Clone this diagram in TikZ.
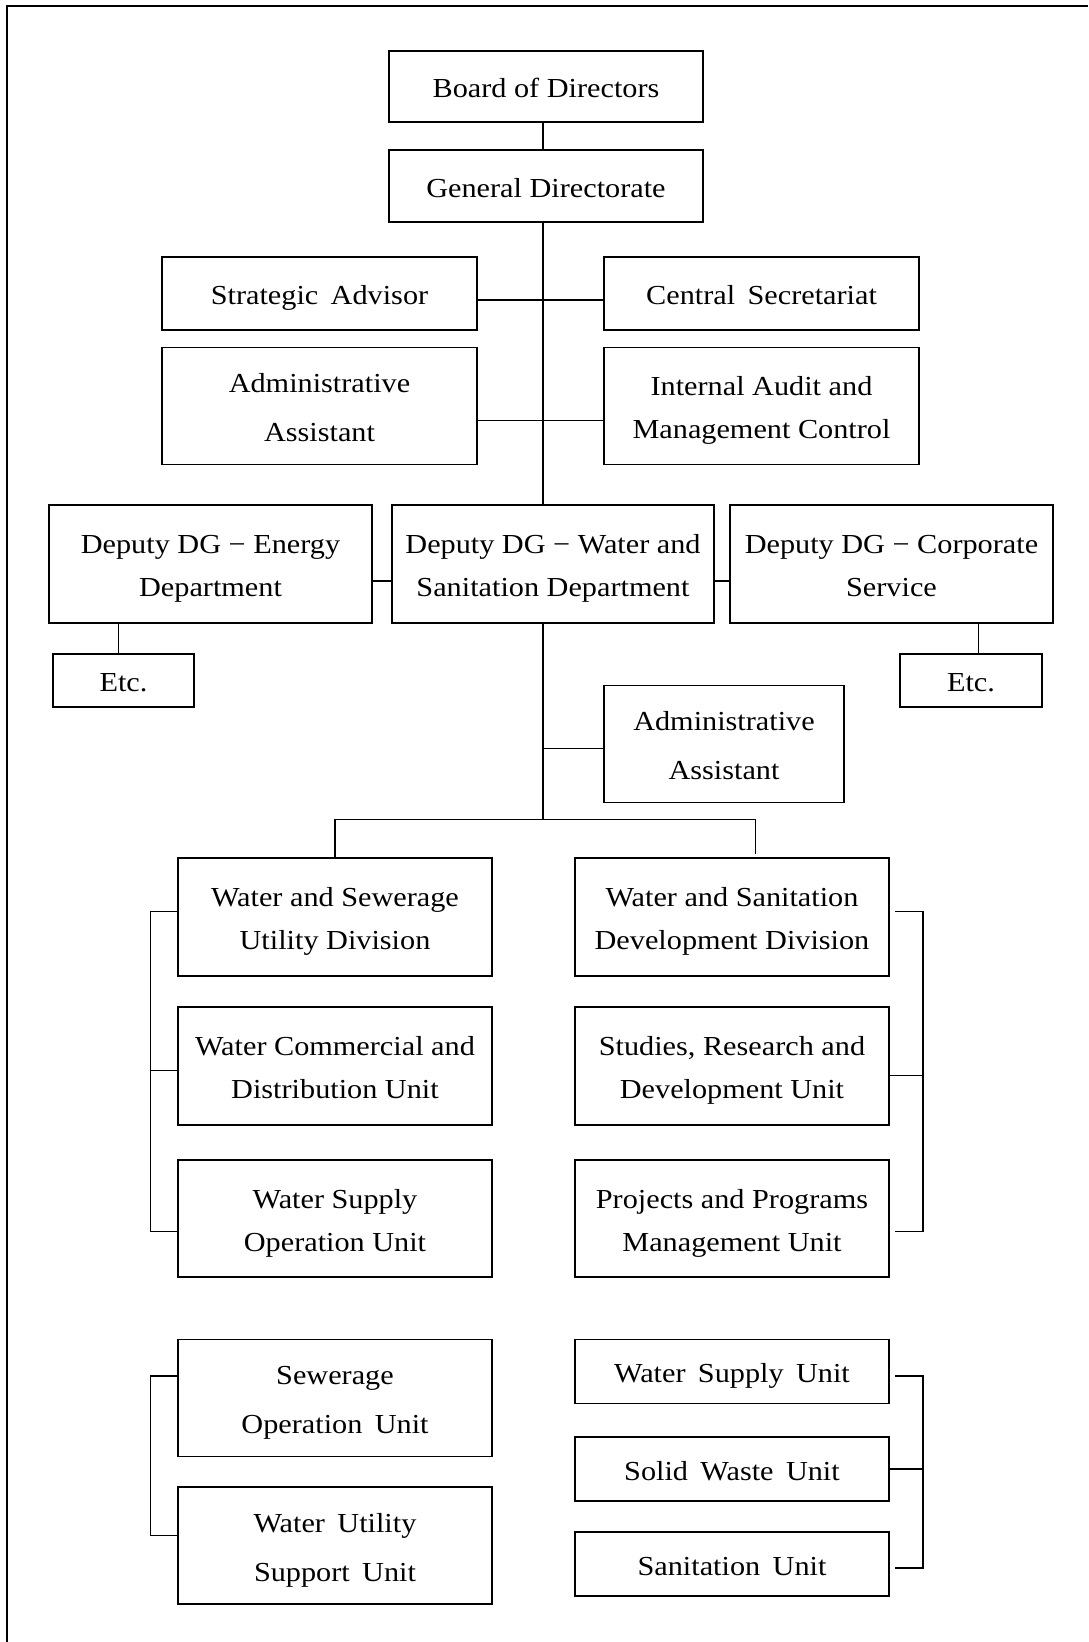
\documentclass[tikz,border=0pt]{standalone}
\usepackage{fontspec}
\setmainfont{Liberation Serif}[FakeStretch=1.10]
\newcommand\ws{\hspace{0.45em}}
% two centred lines, baseline = first line, line distance #1 pt
\newcommand\twol[3]{\vtop{\baselineskip=#1pt\lineskiplimit=0pt\tabskip=0pt
  \halign{\hfil##\hfil\cr#2\cr#3\cr}}}
\tikzset{
  box/.style={draw, line width=1.2pt, inner sep=0pt,
    font=\fontsize{27.5}{33}\selectfont, text height=22pt, text depth=0pt},
  two/.style={text depth=43pt},
  twow/.style={text depth=49pt},
  conn/.style={line width=1.3pt},
  frameline/.style={line width=2pt}
}
\begin{document}
\begin{tikzpicture}[x=1pt,y=-1pt]
\useasboundingbox (0,0) rectangle (1088,1642);
\draw[frameline] (7,1642) -- (7,6) -- (1088,6);
% top
\node[box, minimum width=314pt, minimum height=71pt] (bod) at (546,86.5) {Board of Directors};
\node[box, minimum width=314pt, minimum height=72pt] (gd) at (546,186) {General Directorate};
\node[box, minimum width=315pt, minimum height=73pt] (sa) at (319.5,293.5) {Strategic\ws Advisor};
\node[box, minimum width=315pt, minimum height=73pt] (cs) at (761.5,293.5) {Central\ws Secretariat};
\node[box, twow, minimum width=315pt, minimum height=117.5pt] (aa) at (319.5,406) {\twol{49}{Administrative}{Assistant}};
\node[box, two, minimum width=315pt, minimum height=117.5pt] (ia) at (761.5,406) {\twol{43}{Internal Audit and}{Management Control}};
% deputies
\node[box, two, minimum width=323pt, minimum height=118pt] (de) at (210.5,564) {\twol{43}{Deputy DG − Energy}{Department}};
\node[box, two, minimum width=322pt, minimum height=118pt] (dw) at (553,564) {\twol{43}{Deputy DG − Water and}{Sanitation Department}};
\node[box, two, minimum width=323pt, minimum height=118pt] (dc) at (891.5,564) {\twol{43}{Deputy DG − Corporate}{Service}};
\node[box, minimum width=141pt, minimum height=53pt] (etc1) at (123.5,680.5) {Etc.};
\node[box, minimum width=142pt, minimum height=53pt] (etc2) at (971,680.5) {Etc.};
\node[box, twow, minimum width=240pt, minimum height=117pt] (aa2) at (724,744) {\twol{49}{Administrative}{Assistant}};
% divisions
\node[box, two, minimum width=314pt, minimum height=118pt] (wsu) at (335,917) {\twol{43}{Water and Sewerage}{Utility Division}};
\node[box, two, minimum width=314pt, minimum height=118pt] (wsd) at (732,917) {\twol{43}{Water and Sanitation}{Development Division}};
\node[box, two, minimum width=314pt, minimum height=118pt] (wcd) at (335,1066) {\twol{43}{Water Commercial and}{Distribution Unit}};
\node[box, two, minimum width=314pt, minimum height=118pt] (srd) at (732,1066) {\twol{43}{Studies, Research and}{Development Unit}};
\node[box, two, minimum width=314pt, minimum height=117pt] (wso) at (335,1218.5) {\twol{43}{Water Supply}{Operation Unit}};
\node[box, two, minimum width=314pt, minimum height=117pt] (ppm) at (732,1218.5) {\twol{43}{Projects and Programs}{Management Unit}};
\node[box, twow, minimum width=314pt, minimum height=117pt] (sou) at (335,1398) {\twol{49}{Sewerage}{Operation\ws Unit}};
\node[box, twow, minimum width=314pt, minimum height=117pt] (wus) at (335,1545.5) {\twol{49}{Water\ws Utility}{Support\ws Unit}};
\node[box, minimum width=314pt, minimum height=64pt] (wsun) at (732,1371.5) {Water\ws Supply\ws Unit};
\node[box, minimum width=314pt, minimum height=64pt] (swu) at (732,1469) {Solid\ws Waste\ws Unit};
\node[box, minimum width=314pt, minimum height=64pt] (snu) at (732,1564) {Sanitation\ws Unit};
% coordinates
\coordinate (spine) at (543,0);
\coordinate (split) at (543,819.6);
\coordinate (rdrop) at (755.7,854);
\coordinate (lbx) at (150.6,0);
\coordinate (rbx) at (923,0);
\coordinate (ex1) at (118.7,0);
\coordinate (ex2) at (978.5,0);
% connectors
\draw[conn] (bod.south -| spine) -- (gd.north -| spine);
\draw[conn] (gd.south -| spine) -- (dw.north -| spine);
\draw[conn] (sa.east |- 0,300) -- (cs.west |- 0,300);
\draw[conn] (aa.east |- 0,420.4) -- (ia.west |- 0,420.4);
\draw[conn] (de.east |- 0,581) -- (dw.west |- 0,581);
\draw[conn] (dw.east |- 0,581) -- (dc.west |- 0,581);
\draw[conn] (de.south -| ex1) -- (etc1.north -| ex1);
\draw[conn] (dc.south -| ex2) -- (etc2.north -| ex2);
\draw[conn] (dw.south -| spine) -- (split);
\draw[conn] (aa2.west |- 0,748.6) -- (spine |- 0,748.6);
\draw[conn] (wsu.north) -- (wsu.north |- split) -- (rdrop |- split) -- (rdrop);
% left bracket, upper
\draw[conn] (wsu.west |- 0,911.8) -- (lbx |- 0,911.8) -- (lbx |- 0,1231.4) -- (wso.west |- 0,1231.4);
\draw[conn] (lbx |- 0,1070.4) -- (wcd.west |- 0,1070.4);
% right bracket, upper
\draw[conn] (895,911.8) -- (rbx |- 0,911.8) -- (rbx |- 0,1231.4) -- (895,1231.4);
\draw[conn] (srd.east |- 0,1075.3) -- (rbx |- 0,1075.3);
% left bracket, lower
\draw[conn] (sou.west |- 0,1376) -- (lbx |- 0,1376) -- (lbx |- 0,1535.6) -- (wus.west |- 0,1535.6);
% right bracket, lower
\draw[conn] (895,1376) -- (rbx |- 0,1376) -- (rbx |- 0,1568) -- (895,1568);
\draw[conn] (swu.east |- 0,1468.9) -- (rbx |- 0,1468.9);
\end{tikzpicture}
\end{document}
